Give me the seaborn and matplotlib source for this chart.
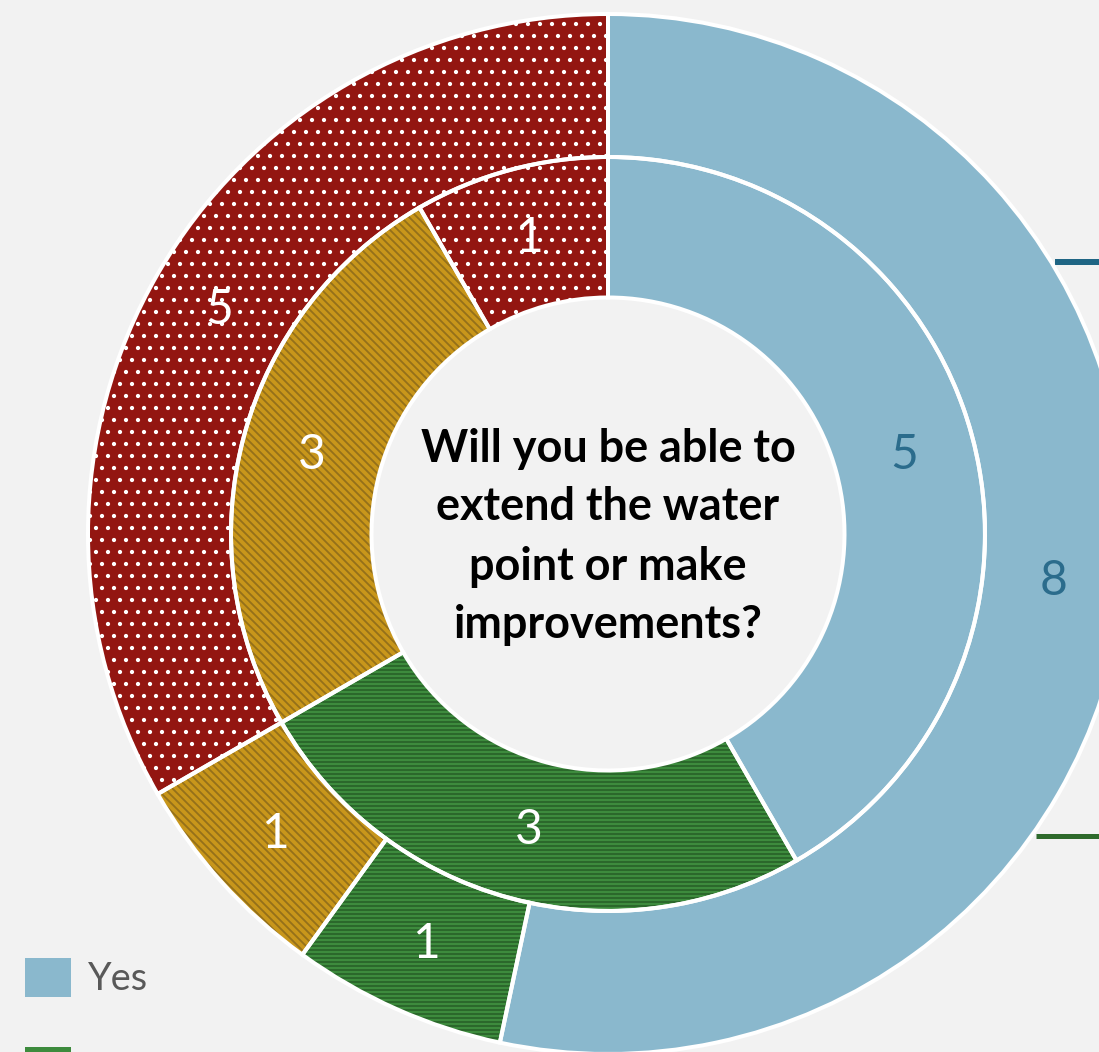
import matplotlib
matplotlib.use("Agg")
import matplotlib.pyplot as plt
from matplotlib.patches import Wedge, Patch
import seaborn as sns

# Survey answers: outer ring and inner ring counts per answer category
categories = ["Yes", "Partly", "Not sure", "No"]
outer_counts = [8, 1, 1, 5]
inner_counts = [5, 3, 3, 1]
question = "Will you be able to\nextend the water\npoint or make\nimprovements?"

face_colors = ["#8ab8cd", "#3d8b3d", "#c8961b", "#931611"]
hatch_colors = [None, "#2a652a", "#94701a", "#ffffff"]
hatch_styles = [None, "---", "\\\\\\", "."]
label_colors = ["#2b6c8c", "white", "white", "white"]

sns.set_theme(style="white")
plt.rcParams["font.family"] = ["Lato", "DejaVu Sans"]
plt.rcParams["hatch.linewidth"] = 1.8

DPI = 72
W, H = 1099, 1052
BG = "#f2f2f2"
fig = plt.figure(figsize=(W / DPI, H / DPI), dpi=DPI, facecolor=BG)
ax = fig.add_axes([0, 0, 1, 1])
ax.set_facecolor(BG)

cx, cy = 608, H - 534
R_OUT, R_MID, R_IN = 520, 377, 236.5


def ring(values, radius, width, pct_r):
    total = sum(values)
    wedges, _, autotexts = ax.pie(
        values, radius=radius, center=(cx, cy), startangle=90,
        counterclock=False, colors=face_colors,
        wedgeprops=dict(width=width, linewidth=0),
        autopct=lambda p: f"{round(p * total / 100):d}",
        pctdistance=pct_r / radius,
        textprops=dict(fontsize=48),
    )
    for w, hc, hs in zip(wedges, hatch_colors, hatch_styles):
        if hs:
            ax.add_patch(Wedge(w.center, w.r, w.theta1, w.theta2, width=w.width,
                               facecolor="none", edgecolor=hc, linewidth=0,
                               hatch=hs, zorder=2))
        ax.add_patch(Wedge(w.center, w.r, w.theta1, w.theta2, width=w.width,
                           fill=False, edgecolor="white", linewidth=4, zorder=3))
    for t, c in zip(autotexts, label_colors):
        t.set_color(c)
        t.set_zorder(5)
    return wedges


ring(outer_counts, R_OUT, R_OUT - R_MID, (R_OUT + R_MID) / 2)
ring(inner_counts, R_MID, R_MID - R_IN, (R_MID + R_IN) / 2)

ax.text(cx, H - 537, question, ha="center", va="center", fontsize=45,
        fontweight="bold", color="black", linespacing=1.5, zorder=6)

# leader lines running off the right edge
ax.plot([1055, W], [H - 262, H - 262], color="#1f6584", lw=6, solid_capstyle="butt")
ax.plot([1036, W], [H - 836, H - 836], color="#2e6a2c", lw=5, solid_capstyle="butt")

ax.set_xlim(0, W)
ax.set_ylim(0, H)
ax.set_aspect("equal")
ax.axis("off")

# legend: only the first entry's text falls inside the figure
handles = [Patch(facecolor=c, edgecolor="none") for c in face_colors[:2]]
fig.legend(handles, [categories[0], ""], loc="upper left",
           bbox_to_anchor=(25 / W, 1 - 958 / H), frameon=False,
           fontsize=38, handlelength=1.2, handleheight=1.2,
           handletextpad=0.47, labelspacing=1.3, borderpad=0,
           borderaxespad=0, labelcolor="#595959")

fig.savefig("out.png", dpi=DPI, facecolor=BG)
